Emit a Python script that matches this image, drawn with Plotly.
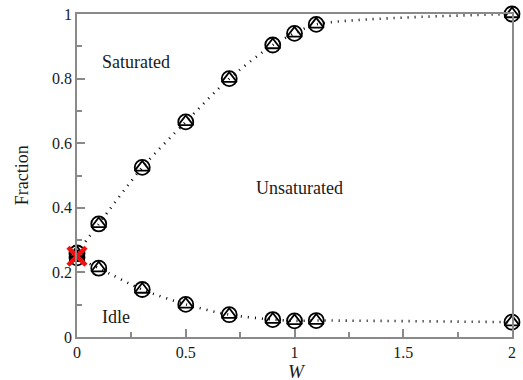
import plotly.graph_objects as go

# Load parameter W and fraction of time in each state
w_values = [0, 0.1, 0.3, 0.5, 0.7, 0.9, 1.0, 1.1, 2.0]
saturated_frac = [0.26, 0.35, 0.525, 0.666, 0.80, 0.904, 0.94, 0.968, 1.0]
idle_frac = [0.245, 0.213, 0.147, 0.101, 0.069, 0.054, 0.050, 0.051, 0.046]

# Theory prediction at W = 0
w_theory = [0]
frac_theory = [0.25]

x_ticks = [0, 0.5, 1, 1.5, 2]
x_tick_text = ["0", "0.5", "1", "1.5", "2"]
y_ticks = [0, 0.2, 0.4, 0.6, 0.8, 1]
y_tick_text = ["0", "0.2", "0.4", "0.6", "0.8", "1"]

FONT = "'Liberation Serif', 'DejaVu Serif', serif"
AX = "#8a8a8a"
TXT = "#1a1a1a"

fig = go.Figure()

for ys in (saturated_frac, idle_frac):
    # dotted guide curve
    fig.add_trace(go.Scatter(
        x=w_values, y=ys, mode="lines",
        line=dict(color="black", width=2.6, dash="1px,6px", shape="spline", smoothing=0.8),
        hoverinfo="skip", showlegend=False,
    ))
    # simulation (circles) and analytic (triangles) results
    fig.add_trace(go.Scatter(
        x=w_values, y=ys, mode="markers",
        marker=dict(symbol="circle-open", size=15, color="black", line=dict(width=1.8)),
        showlegend=False,
    ))
    fig.add_trace(go.Scatter(
        x=w_values, y=ys, mode="markers",
        marker=dict(symbol="triangle-up-open", size=13, color="black", line=dict(width=1.8)),
        showlegend=False,
    ))

fig.add_trace(go.Scatter(
    x=w_theory, y=frac_theory, mode="markers",
    marker=dict(symbol="x-thin-open", size=18, color="#ee1111", line=dict(width=4.5, color="#ee1111")),
    showlegend=False,
))

for tr in fig.data:
    tr.cliponaxis = False

# region labels, left-aligned in data coordinates
labels = [("Saturated", 0.106, 0.851), ("Unsaturated", 0.814, 0.461), ("Idle", 0.106, 0.062)]
for txt, x, y in labels:
    fig.add_annotation(x=x, y=y, text=txt, showarrow=False, xanchor="left",
                       font=dict(family=FONT, size=18, color=TXT))

# axis titles
fig.add_annotation(xref="paper", yref="paper", x=0.506, y=-0.108, text="<i>W</i>",
                   xanchor="center", yanchor="middle",
                   showarrow=False, font=dict(family=FONT, size=19, color=TXT))
fig.add_annotation(xref="paper", yref="paper", x=-0.127, y=0.5, text="Fraction",
                   xanchor="center", yanchor="middle",
                   textangle=-90, showarrow=False, font=dict(family=FONT, size=18, color=TXT))

fig.update_layout(
    width=523, height=380,
    margin=dict(l=77, r=11, t=14, b=43),
    paper_bgcolor="white", plot_bgcolor="white",
    font=dict(family=FONT, size=16, color=TXT),
)
fig.update_xaxes(
    range=[0, 2], tickvals=x_ticks, ticktext=x_tick_text, automargin=False,
    showgrid=False, zeroline=False, showline=True, linecolor=AX, linewidth=1.5, mirror=True,
    ticks="inside", ticklen=8, tickcolor=AX, tickwidth=1.5,
    minor=dict(dtick=0.25, ticks="inside", ticklen=5, tickcolor=AX, tickwidth=1.5),
    tickfont=dict(family=FONT, size=16, color=TXT),
)
fig.update_yaxes(
    range=[0, 1], tickvals=y_ticks, ticktext=y_tick_text, automargin=False,
    showgrid=False, zeroline=False, showline=True, linecolor=AX, linewidth=1.5, mirror=True,
    ticks="inside", ticklen=8, tickcolor=AX, tickwidth=1.5,
    minor=dict(dtick=0.1, ticks="inside", ticklen=5, tickcolor=AX, tickwidth=1.5),
    tickfont=dict(family=FONT, size=16, color=TXT),
)

fig.write_html("out.html")
